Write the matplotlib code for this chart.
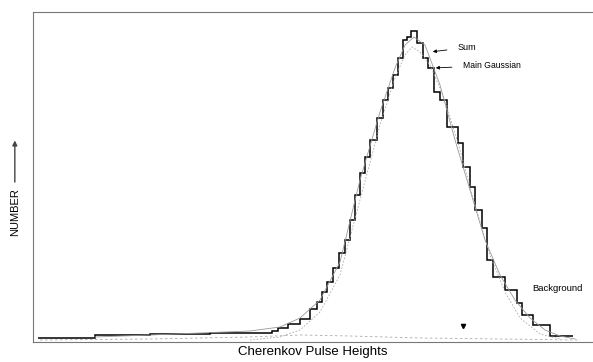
import numpy as np
import matplotlib.pyplot as plt

plt.rcParams['font.family'] = ['Liberation Sans', 'DejaVu Sans']

# histogram (pulse-height channel edges, counts)
edges = [5, 62, 117, 177, 239, 245, 255, 267, 277, 284, 289, 294, 300, 306, 312, 317,
         322, 327, 332, 337, 344, 350, 355, 360, 365, 370, 374, 378, 384, 390, 395, 401,
         407, 414, 425, 430, 437, 442, 449, 454, 460, 472, 484, 489, 500, 517, 540]
counts = [3, 6, 7, 8, 10, 13, 17, 22, 32, 39, 49, 59, 73, 88, 101, 121,
          146, 168, 184, 201, 223, 241, 253, 266, 283, 301, 304, 310, 298, 283, 273, 249,
          241, 214, 198, 174, 154, 131, 113, 81, 64, 51, 38, 26, 16, 5]

# fitted curves
sum_x = [62, 117, 167, 217, 247, 267, 287, 307, 327, 347, 362, 372, 381, 392, 407,
         422, 437, 452, 467, 482, 497, 512, 527, 542]
sum_y = [4, 6, 8, 10, 14, 23, 41, 79, 161, 229, 273, 296, 304, 296, 256,
         201, 151, 101, 66, 41, 23, 11, 5, 2]
gauss_x = [217, 247, 267, 287, 307, 327, 347, 362, 372, 379, 387, 397, 412, 427, 442,
           457, 472, 487, 507, 527]
gauss_y = [1, 4, 11, 29, 66, 141, 216, 263, 286, 294, 289, 276, 241, 191, 136,
           86, 49, 23, 7, 2]
bkg_x = [7, 117, 217, 267, 317, 387, 467, 547]
bkg_y = [1, 2, 4, 6, 5, 3, 2, 1]

fig = plt.figure(figsize=(5.93, 3.62), dpi=100)
ax = fig.add_axes([33/593, 20/362, 560/593, 330/362])

ax.stairs(counts, edges, color='black', lw=1.1, baseline=None)
ax.plot(sum_x, sum_y, color='#999999', lw=0.6)
ax.plot(gauss_x, gauss_y, color='#aaaaaa', lw=0.6, ls=(0, (2, 2)))
ax.plot(bkg_x, bkg_y, color='#aaaaaa', lw=0.6, ls=(0, (3, 3)))

ax.set_xlim(0, 560)
ax.set_ylim(-1, 329)
ax.set_xticks([])
ax.set_yticks([])
ax.spines['right'].set_visible(False)
for s in ['left', 'top', 'bottom']:
    ax.spines[s].set_color('#777777')
    ax.spines[s].set_linewidth(0.8)

ax.annotate('Sum', xy=(397, 289), xytext=(425, 291), fontsize=6.5,
            arrowprops=dict(arrowstyle='-|>', color='black', lw=0.6, mutation_scale=5,
                            shrinkA=6))
ax.annotate('Main Gaussian', xy=(400, 273), xytext=(430, 273), fontsize=6.2,
            arrowprops=dict(arrowstyle='-|>', color='black', lw=0.6, mutation_scale=5,
                            shrinkA=6))
ax.text(499, 50, 'Background', fontsize=6.8)
ax.plot([430], [15], marker='v', color='black', ms=3)

ax.set_xlabel('Cherenkov Pulse Heights', fontsize=9.5, labelpad=3)
fig.text(0.025, 0.414, 'NUMBER', rotation=90, fontsize=8, ha='center', va='center')
ax.annotate('', xy=(0.025, 0.612), xycoords='figure fraction',
            xytext=(0.025, 0.497), textcoords='figure fraction', annotation_clip=False,
            arrowprops=dict(arrowstyle='-|>', color='#444444', lw=1.0, mutation_scale=7,
                            shrinkA=0, shrinkB=0))

fig.savefig('out.png', dpi=100)
